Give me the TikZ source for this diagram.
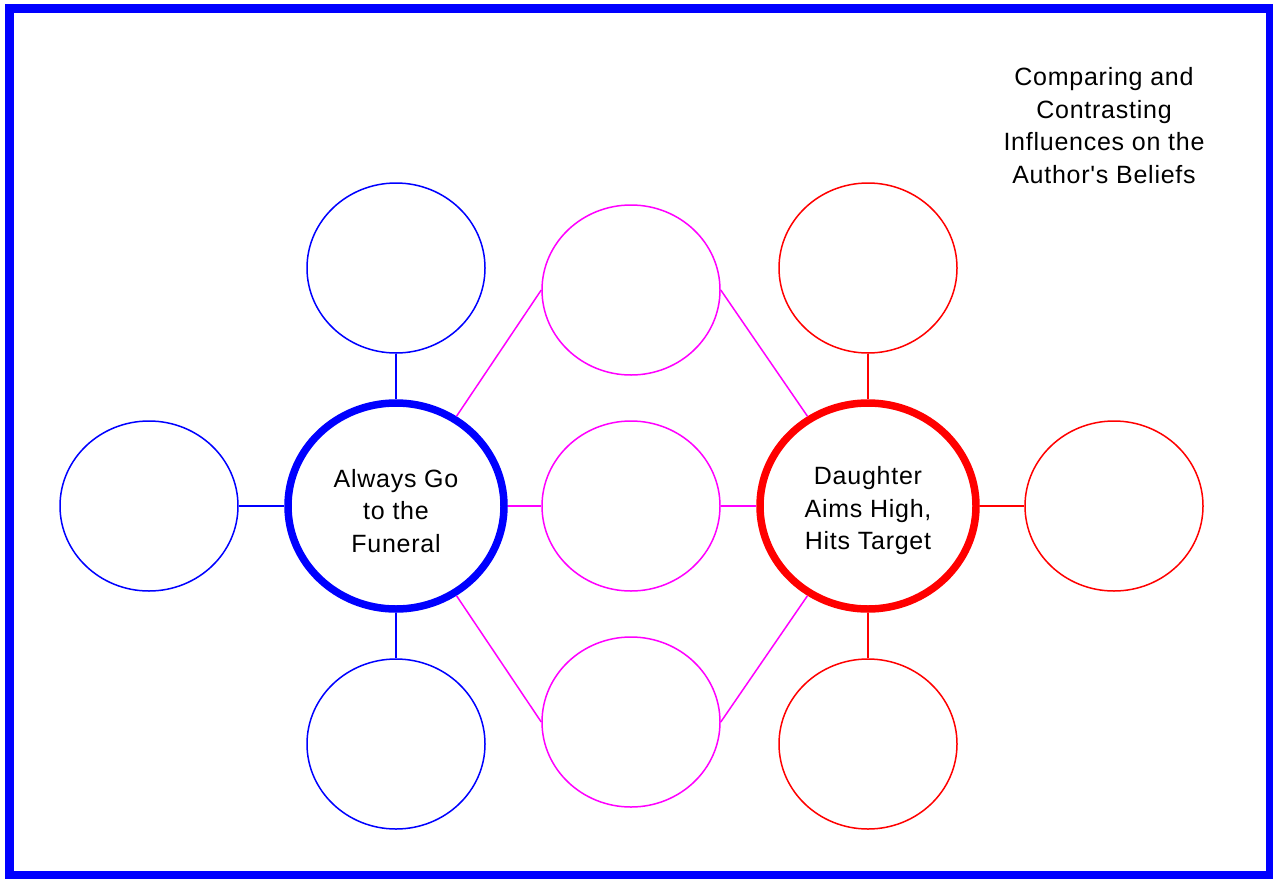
\documentclass[tikz,border=0pt]{standalone}
\usepackage{fontspec}
\newfontfamily\labelfont{Liberation Sans}[Ligatures=TeXOff, LetterSpace=3]
\usetikzlibrary{shapes.geometric}
\definecolor{ringblue}{RGB}{0,0,255}
\definecolor{ringred}{RGB}{255,0,0}
\definecolor{ringpink}{RGB}{255,0,255}
% taller first line so the three-line label sits a little below the ring centre
\newcommand{\toplift}{\rule{0pt}{28pt}}
\begin{document}
\begin{tikzpicture}[x=1pt,y=-1pt,
  small/.style={ellipse, draw, line width=1.5pt, minimum width=178pt, minimum height=170pt, inner sep=0pt},
  big/.style={ellipse, draw, line width=7.5pt, minimum width=216pt, minimum height=206pt, inner sep=0pt,
    align=center, text=black, font=\labelfont\fontsize{25}{32.5}\selectfont},
  link/.style={line width=1.5pt},
  title/.style={align=center, font=\labelfont\fontsize{25}{32.5}\selectfont}]
\useasboundingbox (0,0) rectangle (1273,878);
% outer frame
\draw[ringblue, line width=9pt] (9,8.5) rectangle (1270.5,875.5);

% central topics
\node[big, draw=ringblue] (L) at (396,506) {\toplift Always Go\\to the\\Funeral};
\node[big, draw=ringred] (R) at (868,506) {\toplift Daughter\\Aims High,\\Hits Target};

% satellites of the first topic
\node[small, draw=ringblue] (LT) at (396,268) {};
\node[small, draw=ringblue] (LW) at (149,506) {};
\node[small, draw=ringblue] (LB) at (396,744) {};

% shared ideas
\node[small, draw=ringpink] (M1) at (631,290) {};
\node[small, draw=ringpink] (M2) at (631,506) {};
\node[small, draw=ringpink] (M3) at (631,722) {};

% satellites of the second topic
\node[small, draw=ringred] (RT) at (868,268) {};
\node[small, draw=ringred] (RE) at (1114,506) {};
\node[small, draw=ringred] (RB) at (868,744) {};

% connectors
\draw[link, ringblue] (LT.south) -- (L.north);
\draw[link, ringblue] (LW.east) -- (L.west);
\draw[link, ringblue] (LB.north) -- (L.south);

\draw[link, ringpink] (L.56) -- (M1.west);
\draw[link, ringpink] (L.east) -- (M2.west);
\draw[link, ringpink] (L.-56) -- (M3.west);
\draw[link, ringpink] (M1.east) -- (R.124);
\draw[link, ringpink] (M2.east) -- (R.west);
\draw[link, ringpink] (M3.east) -- (R.-124);

\draw[link, ringred] (RT.south) -- (R.north);
\draw[link, ringred] (RE.west) -- (R.east);
\draw[link, ringred] (RB.north) -- (R.south);

% title
\node[title] (head) at (1104,125.5) {Comparing and\\Contrasting\\Influences on the\\Author's Beliefs};
\end{tikzpicture}
\end{document}
